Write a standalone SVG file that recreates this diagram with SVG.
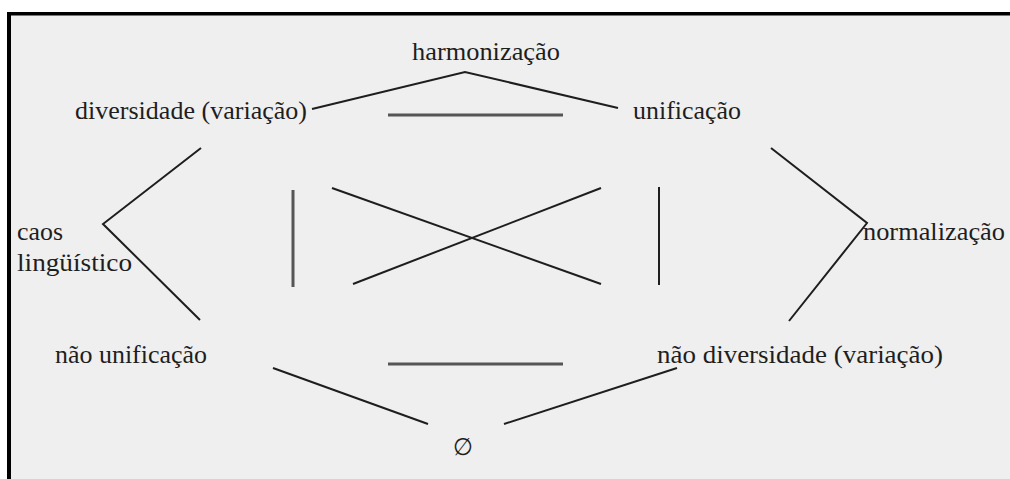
<svg xmlns="http://www.w3.org/2000/svg" width="1010" height="479" viewBox="0 0 1010 479">
  <style>
    .edge { stroke: #1e1e1e; stroke-width: 2; fill: none; stroke-linecap: butt; }
    .bar { stroke: #555555; stroke-width: 3; fill: none; }
  </style>
  <!-- page and frame -->
  <rect x="0" y="0" width="1010" height="479" fill="#ffffff"/>
  <rect x="9" y="13" width="1001" height="466" fill="#efefef"/>
  <rect x="7" y="12" width="1003" height="3.5" fill="#000000"/>
  <rect x="7" y="12" width="4" height="467" fill="#000000"/>

  <g id="connectors">
    <!-- harmonização roof -->
    <polyline class="edge" points="312,109 465,72 618,108"/>
    <!-- caos linguístico chevron -->
    <polyline class="edge" points="201,148 103,224 200,320"/>
    <!-- normalização chevron -->
    <polyline class="edge" points="771,148 867,223 789,321"/>
    <!-- bottom V to the empty set -->
    <line class="edge" x1="273" y1="368" x2="428" y2="424"/>
    <line class="edge" x1="504" y1="424" x2="677" y2="368"/>
    <!-- contrary relations -->
    <line class="bar" x1="388" y1="115" x2="563" y2="115" stroke="#3a3a3a" stroke-width="2.2"/>
    <line class="bar" x1="388" y1="364" x2="563" y2="364"/>
    <!-- subaltern relations -->
    <line class="bar" x1="293" y1="190" x2="293" y2="287" stroke="#666666"/>
    <line class="edge" x1="659" y1="187" x2="659" y2="285"/>
    <!-- contradictory relations -->
    <line class="edge" x1="332" y1="188" x2="601" y2="284"/>
    <line class="edge" x1="353" y1="284" x2="601" y2="188"/>
  </g>

  <g font-family="Liberation Serif, DejaVu Serif, serif" font-size="26" fill="#1e1e1e">
    <g id="harmonizacao"><text x="412" y="60" textLength="148" lengthAdjust="spacingAndGlyphs">harmonização</text></g>
    <g id="diversidade"><text x="75" y="119" textLength="232" lengthAdjust="spacingAndGlyphs">diversidade (variação)</text></g>
    <g id="unificacao"><text x="633" y="119" textLength="108" lengthAdjust="spacingAndGlyphs">unificação</text></g>
    <g id="caos-linguistico">
      <text x="17" y="240" textLength="46" lengthAdjust="spacingAndGlyphs">caos</text>
      <text x="17" y="271" textLength="115" lengthAdjust="spacingAndGlyphs">lingüístico</text>
    </g>
    <g id="normalizacao"><text x="863" y="240" textLength="142" lengthAdjust="spacingAndGlyphs">normalização</text></g>
    <g id="nao-unificacao"><text x="55" y="363" textLength="152" lengthAdjust="spacingAndGlyphs">não unificação</text></g>
    <g id="nao-diversidade"><text x="657" y="363" textLength="286" lengthAdjust="spacingAndGlyphs">não diversidade (variação)</text></g>
    <g id="vazio"><text x="453" y="455" font-size="24" textLength="20" lengthAdjust="spacingAndGlyphs">∅</text></g>
  </g>
</svg>
